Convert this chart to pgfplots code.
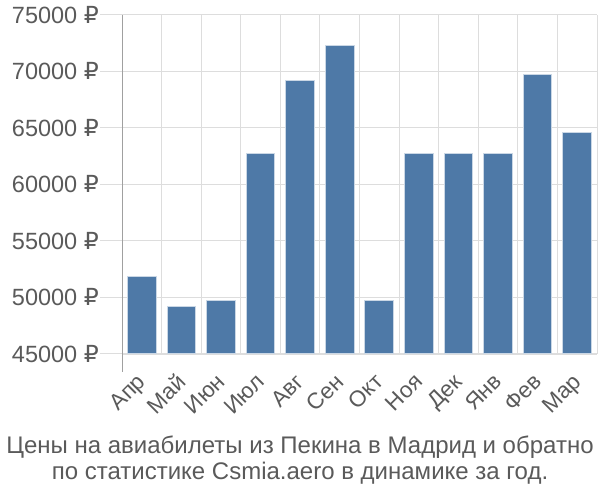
\documentclass[border=0pt]{standalone}
\usepackage{fontspec}
\setmainfont{Liberation Sans}
\newfontfamily\dejavu{DejaVu Sans}
\usepackage{pgfplots}
\pgfplotsset{compat=1.18}
\definecolor{barblue}{RGB}{78,121,167}
\definecolor{gridgray}{RGB}{221,221,221}
\definecolor{axgray}{RGB}{160,160,160}
\definecolor{txtgray}{RGB}{90,90,90}
\begin{document}
\begin{tikzpicture}[x=1bp,y=1bp]
\begin{axis}[
  at={(122bp,146bp)}, anchor=south west,
  scale only axis, width=475bp, height=339bp,
  xmin=-0.5, xmax=11.5, ymin=45000, ymax=75000,
  ybar, bar width=28.7bp,
  axis x line*=bottom, axis y line*=left,
  x axis line style={draw=gridgray,-},
  y axis line style={draw=axgray,-,shorten <=-18bp},
  xtick={0,...,11},
  xticklabels={Апр,Май,Июн,Июл,Авг,Сен,Окт,Ноя,Дек,Янв,Фев,Мар},
  minor xtick={-0.5,0.5,...,11.5},
  xminorgrids, minor grid style={gridgray, line width=1bp},
  minor tick length=18bp,
  ytick={45000,50000,...,75000},
  ymajorgrids, major grid style={gridgray, line width=1bp},
  tick align=outside,
  major tick length=22bp,
  xtick style={draw=none},
  minor x tick style={gridgray, line width=1bp},
  ytick style={gridgray, line width=1bp},
  /pgf/number format/assume math mode=true,
  /pgf/number format/set thousands separator={},
  scaled y ticks=false,
  yticklabel={\pgfmathprintnumber{\tick}~{\dejavu ₽}},
  yticklabel style={font=\fontsize{23.5bp}{26bp}\selectfont, text=txtgray, inner sep=1bp},
  xticklabel shift=-4bp,
  xticklabel style={font=\fontsize{22.5bp}{26bp}\selectfont, text=txtgray, inner sep=0pt, xshift=-6bp, rotate=45, anchor=north east},
  clip=false,
]
\addplot[fill=barblue, draw=white!70!barblue, line width=1bp] coordinates {
(0,51880) (1,49240) (2,49700) (3,62710) (4,69180) (5,72270) (6,49700) (7,62710) (8,62710) (9,62710) (10,69710) (11,64620)};
\end{axis}
\node[align=center, text=txtgray, font=\fontsize{24bp}{26.5bp}\selectfont] at (300bp,40bp) {Цены на авиабилеты из Пекина в Мадрид и обратно\\по статистике Csmia.aero в динамике за год.};
\pgfresetboundingbox
\path (0,0) rectangle (600bp,500bp);
\end{tikzpicture}
\end{document}
